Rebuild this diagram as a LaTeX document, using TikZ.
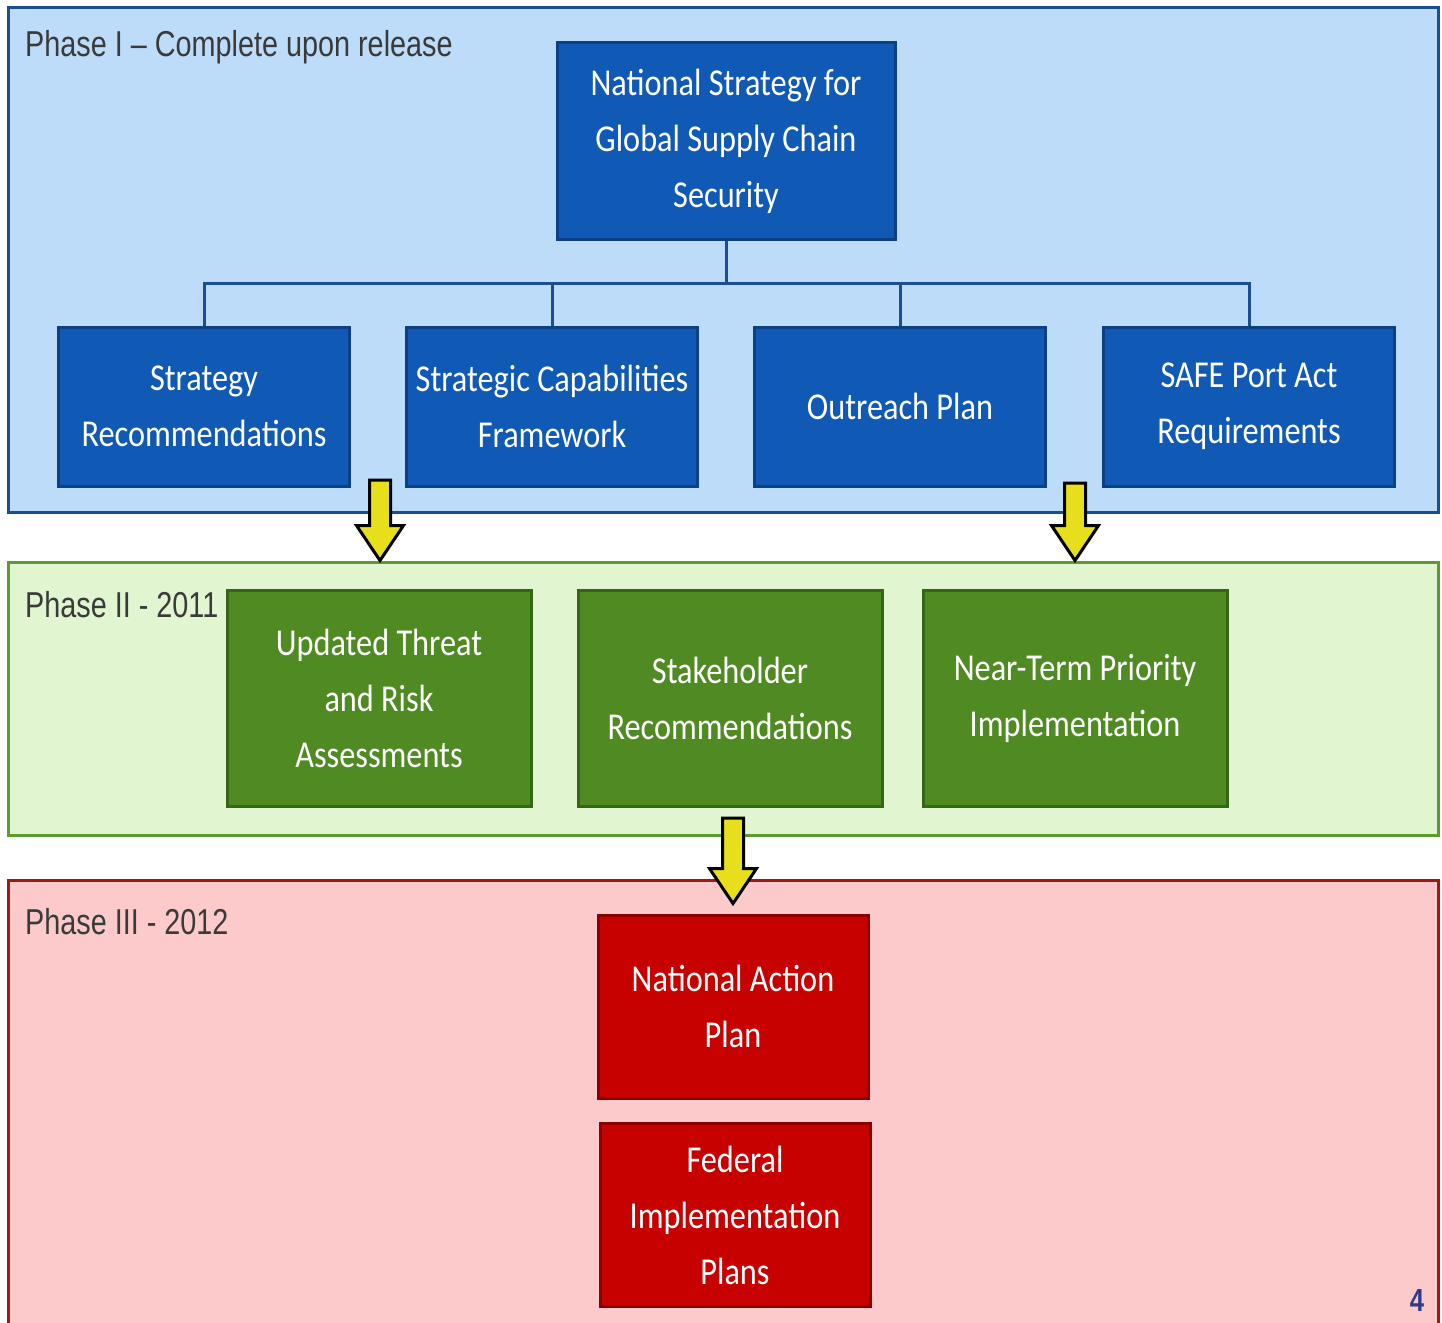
\documentclass[tikz,border=0pt]{standalone}
\usepackage{fontspec}
\setmainfont{Liberation Sans}
\newfontfamily\boxfont[FakeStretch=0.85]{Carlito}
\newfontfamily\phasefont[FakeStretch=0.8]{Liberation Sans}
\usetikzlibrary{calc}
\definecolor{bandblue}{HTML}{BDDCF9}
\definecolor{lineblue}{HTML}{1C4F91}
\definecolor{boxblue}{HTML}{1059B5}
\definecolor{edgeblue}{HTML}{0C3F84}
\definecolor{bandgreen}{HTML}{E1F5D0}
\definecolor{linegreen}{HTML}{5E9B2E}
\definecolor{boxgreen}{HTML}{4F8A22}
\definecolor{edgegreen}{HTML}{356617}
\definecolor{bandred}{HTML}{FCCACA}
\definecolor{linered}{HTML}{A51515}
\definecolor{boxred}{HTML}{C70000}
\definecolor{edgered}{HTML}{8B0000}
\definecolor{arrowyellow}{HTML}{E8DF1C}
\definecolor{labelgray}{HTML}{3A3A3A}
\definecolor{pagenum}{HTML}{2E3A8A}

\tikzset{
	band/.style={draw,line width=3,minimum width=1430,inner sep=0},
	box/.style={draw,line width=3,text=white,align=center,inner sep=0,
		font=\boxfont\fontsize{38}{56}\selectfont},
	phase/.style={anchor=west,text=labelgray,inner sep=0,
		font=\phasefont\fontsize{36}{40}\selectfont},
	tree/.style={draw=lineblue,line width=3},
	yarrow/.style={draw=black,fill=arrowyellow,line width=3,line join=miter,
		to path={let \p1=(\tikztostart), \p2=(\tikztotarget) in
			(\x1-10.5pt,\y1) -- (\x1+10.5pt,\y1) -- (\x1+10.5pt,\y2+35pt) -- (\x1+23.5pt,\y2+35pt)
			-- (\x1,\y2) -- (\x1-23.5pt,\y2+35pt) -- (\x1-10.5pt,\y2+35pt) -- cycle}}
}

\begin{document}
\begin{tikzpicture}[x=1pt,y=-1pt]
	\useasboundingbox (0,0) rectangle (1442,1322);
	\fill[white] (0,0) rectangle (1442,1322);
	% phase bands
	\node[band,fill=bandblue,draw=lineblue,minimum height=504] (p1) at (723,260) {};
	\node[band,fill=bandgreen,draw=linegreen,minimum height=273] (p2) at (723,698.5) {};
	\node[band,fill=bandred,draw=linered,minimum height=450] (p3) at (723,1105) {};
	\node[phase] (l1) at (25,47) {Phase I – Complete upon release};
	\node[phase] (l2) at (25,605) {Phase II - 2011};
	\node[phase] (l3) at (25,922) {Phase III - 2012};
	% phase I
	\begin{scope}[every node/.append style={box,fill=boxblue,draw=edgeblue}]
		\node[minimum width=338,minimum height=197] (top) at (726,141) {National Strategy for\\Global Supply Chain\\Security};
		\node[minimum width=291,minimum height=159] (sr) at (204,406.5) {Strategy\\Recommendations};
		\node[minimum width=291,minimum height=159] (scf) at (552,406.5) {Strategic Capabilities\\Framework};
		\node[minimum width=291,minimum height=159] (op) at (900,406.5) {Outreach Plan};
		\node[minimum width=291,minimum height=159] (safe) at (1249,406.5) {SAFE Port Act\\Requirements};
	\end{scope}
	\foreach \n in {sr,scf,op,safe}
		\draw[tree] (top.south) -- ++(0,42) -| (\n.north);
	% phase II
	\begin{scope}[every node/.append style={box,fill=boxgreen,draw=edgegreen,minimum width=304,minimum height=216}]
		\node (upd) at (379,698) {Updated Threat\\and Risk\\Assessments};
		\node (stk) at (730,698) {Stakeholder\\Recommendations};
		\node (near) at (1075,698) {Near-Term Priority\\Implementation};
	\end{scope}
	% phase III
	\begin{scope}[every node/.append style={box,fill=boxred,draw=edgered,minimum width=270,minimum height=183}]
		\node (nap) at (733,1006.5) {National Action\\Plan};
		\node (fip) at (735,1215) {Federal\\Implementation\\Plans};
	\end{scope}
	% arrows
	\coordinate (a1) at (380,480);
	\coordinate (a2) at (1075,483);
	\coordinate (a3) at (733,818);
	\draw[yarrow] (a1) to (upd.north |- p2.north);
	\draw[yarrow] (a2) to (near.north |- p2.north);
	\draw[yarrow] (a3) to ([yshift=10pt]nap.north);
	\node[text=pagenum,inner sep=0,font=\phasefont\bfseries\fontsize{32}{32}\selectfont] (pg) at (1417,1300) {4};
\end{tikzpicture}
\end{document}
